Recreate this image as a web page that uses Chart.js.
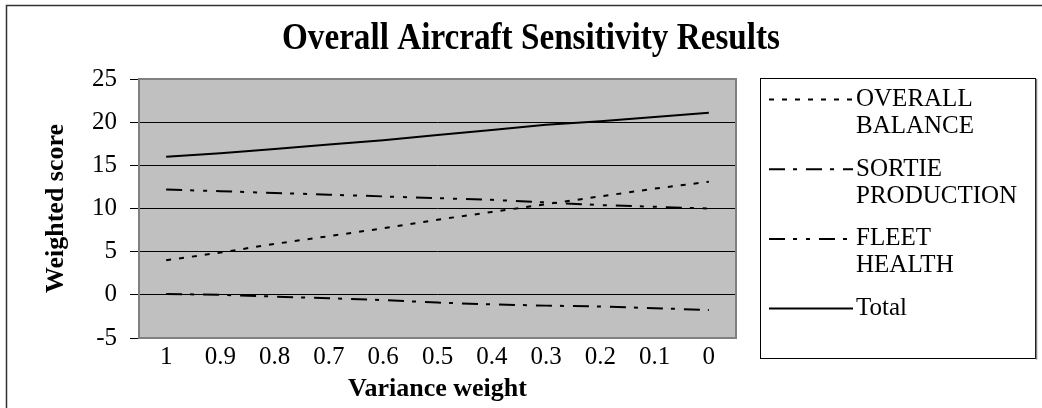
<!DOCTYPE html>
<html>
<head>
<meta charset="utf-8">
<script src="https://cdn.jsdelivr.net/npm/chart.js@4.4.1/dist/chart.umd.min.js"></script>
<style>
html,body{margin:0;padding:0;background:#fff;}
#wrap{width:1042px;height:408px;position:relative;}
</style>
</head>
<body>
<div id="wrap"><canvas id="c" width="1042" height="408"></canvas></div>
<script>
const categories = ['1','0.9','0.8','0.7','0.6','0.5','0.4','0.3','0.2','0.1','0'];
const overallBalance   = [4.0, 4.9, 5.9, 6.8, 7.7, 8.7, 9.6, 10.5, 11.4, 12.3, 13.1];
const sortieProduction = [0.1, 0.0, -0.2, -0.4, -0.6, -0.9, -1.1, -1.25, -1.35, -1.55, -1.75];
const fleetHealth      = [12.2, 12.0, 11.8, 11.6, 11.4, 11.2, 11.0, 10.7, 10.4, 10.2, 10.0];
const total            = [16.0, 16.4, 16.9, 17.4, 17.9, 18.5, 19.1, 19.7, 20.1, 20.6, 21.1];
const seriesNames = ['OVERALL BALANCE', 'SORTIE PRODUCTION', 'FLEET HEALTH', 'Total'];
const yMin = -5, yMax = 25, yStep = 5;
const chartTitle = 'Overall Aircraft Sensitivity Results';
const xTitle = 'Variance weight';
const yTitle = 'Weighted score';

const SERIF = '"Liberation Serif","Times New Roman",Times,serif';

const decor = {
  id: 'decor',
  beforeDraw(chart) {
    const {ctx, chartArea: a} = chart;
    ctx.save();
    ctx.fillStyle = '#c0c0c0';
    ctx.fillRect(a.left, a.top, a.right - a.left, a.bottom - a.top);
    ctx.restore();
  },
  beforeDatasetsDraw(chart) {
    const {ctx, chartArea: a} = chart;
    ctx.save();
    ctx.strokeStyle = '#808080';
    ctx.lineWidth = 2;
    ctx.strokeRect(a.left, a.top, a.right - a.left, a.bottom - a.top);
    ctx.restore();
  },
  afterDraw(chart) {
    const ctx = chart.ctx;
    ctx.save();
    // outer frame
    ctx.strokeStyle = '#333';
    ctx.lineWidth = 1.5;
    ctx.strokeRect(6.5, 5.5, 1100, 500);
    // title (condensed)
    ctx.fillStyle = '#000';
    ctx.font = 'bold 38px ' + SERIF;
    const w = ctx.measureText(chartTitle).width;
    ctx.save();
    ctx.translate(531, 49);
    ctx.scale(498 / w, 1);
    ctx.textAlign = 'center';
    ctx.textBaseline = 'alphabetic';
    ctx.fillText(chartTitle, 0, 0);
    ctx.restore();
    // legend box
    ctx.strokeStyle = '#000';
    ctx.lineWidth = 1;
    ctx.strokeRect(760.5, 78.5, 275, 280);
    ctx.strokeStyle = '#808080';
    ctx.lineWidth = 1.5;
    ctx.beginPath(); ctx.moveTo(1036.5, 79); ctx.lineTo(1036.5, 359.5); ctx.stroke();
    ctx.font = '25px ' + SERIF;
    ctx.textAlign = 'left';
    ctx.textBaseline = 'middle';
    chart.data.datasets.forEach((ds, i) => {
      const y = 99.5 + i * 69.7;
      ctx.strokeStyle = ds.borderColor;
      ctx.lineWidth = ds.borderWidth;
      ctx.setLineDash(ds.borderDash || []);
      ctx.beginPath(); ctx.moveTo(769, y); ctx.lineTo(853, y); ctx.stroke();
      ctx.setLineDash([]);
      ctx.fillStyle = '#000';
      ds.label.split(' ').forEach((word, j) => ctx.fillText(word, 856, y + j * 27));
    });
    ctx.restore();
  }
};

const datasets = [
  {label: seriesNames[0], data: overallBalance, borderDash: [5, 8]},
  {label: seriesNames[1], data: sortieProduction, borderDash: [16, 8, 4, 9]},
  {label: seriesNames[2], data: fleetHealth, borderDash: [16, 8, 4, 9, 4, 9]},
  {label: seriesNames[3], data: total, borderDash: []}
].map(d => Object.assign({borderColor: '#000', backgroundColor: '#000', borderWidth: 2,
  pointRadius: 0, pointHoverRadius: 0, tension: 0, fill: false}, d));

new Chart(document.getElementById('c'), {
  type: 'line',
  data: {labels: categories, datasets},
  plugins: [decor],
  options: {
    responsive: false,
    animation: false,
    devicePixelRatio: 1,
    layout: {padding: {top: 79, right: 306, left: 0, bottom: 0}},
    plugins: {
      legend: {display: false},
      title: {display: false, text: chartTitle},
      tooltip: {enabled: false}
    },
    scales: {
      x: {
        offset: true,
        grid: {display: false, drawTicks: false},
        border: {display: false},
        ticks: {color: '#000', font: {family: SERIF, size: 25}, padding: 4, maxRotation: 0, autoSkip: false},
        title: {display: true, text: xTitle, color: '#000', font: {family: SERIF, size: 26, weight: 'bold'}, padding: {top: 0, bottom: 3}},
        afterFit(s) { s.height = 70; }
      },
      y: {
        min: yMin, max: yMax,
        grid: {color: '#000', lineWidth: 1, tickLength: 9, tickColor: '#000', drawTicks: true},
        border: {display: false},
        ticks: {stepSize: yStep, color: '#000', font: {family: SERIF, size: 25}, padding: 13},
        title: {display: true, text: yTitle, color: '#000', font: {family: SERIF, size: 26, weight: 'bold'}, padding: {top: 41, bottom: 0}},
        afterFit(s) { s.width = 139; }
      }
    }
  }
});
</script>
</body>
</html>
